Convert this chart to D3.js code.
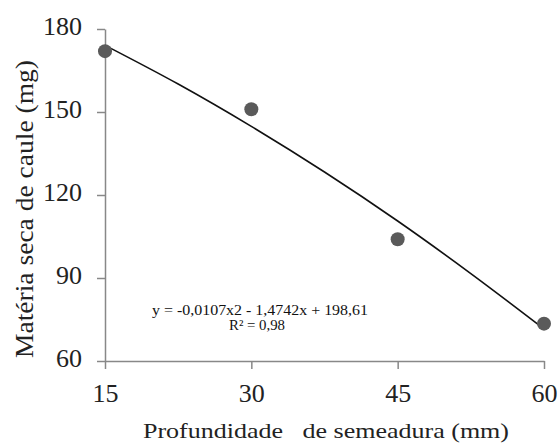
<!DOCTYPE html>
<html lang="pt">
<head>
<meta charset="UTF-8">
<title>Matéria seca de caule</title>
<script src="https://cdn.jsdelivr.net/npm/d3@7"></script>
<style>
  html, body { margin: 0; padding: 0; background: #fff; }
  svg text { font-family: 'Liberation Serif', 'Times New Roman', Times, 'DejaVu Serif', serif !important; }
</style>
</head>
<body>
<div id="chart"></div>
<script>
// observed points
const depths = [15, 30, 45, 60];
const massValues = [172, 151, 104, 73.5];
// fitted trend line
const trendX = [15, 22.5, 30, 37.5, 45, 52.5, 60];
const trendY = [174.1, 160.1, 144.8, 128.3, 110.6, 91.6, 71.6];
const xTicks = [15, 30, 45, 60];
const yTicks = [60, 90, 120, 150, 180];

const width = 558, height = 444;
const margin = { left: 105, right: 14, top: 29, bottom: 83 };

const svg = d3.select('#chart').append('svg')
  .attr('width', width)
  .attr('height', height);

const x = d3.scaleLinear().domain([15, 60]).range([margin.left, width - margin.right]);
const y = d3.scaleLinear().domain([60, 180]).range([height - margin.bottom, margin.top]);

// y axis
const yAxis = svg.append('g')
  .attr('transform', `translate(${margin.left},0)`)
  .call(d3.axisLeft(y).tickValues(yTicks).tickSize(8).tickPadding(15).tickSizeOuter(0));
yAxis.select('.domain').attr('stroke', '#888').attr('stroke-width', 1.5);
yAxis.selectAll('.tick line').attr('stroke', '#888').attr('stroke-width', 1.5);
yAxis.selectAll('.tick text')
  .attr('font-size', 26).attr('fill', '#222').attr('dy', '0.2em');

// x axis
const xAxis = svg.append('g')
  .attr('transform', `translate(0,${height - margin.bottom})`)
  .call(d3.axisBottom(x).tickValues(xTicks).tickSize(8).tickPadding(15).tickSizeOuter(0));
xAxis.select('.domain').attr('stroke', '#888').attr('stroke-width', 1.5);
xAxis.selectAll('.tick line').attr('stroke', '#888').attr('stroke-width', 1.5);
xAxis.selectAll('.tick text')
  .attr('font-size', 26).attr('fill', '#222');

// trend line
const line = d3.line()
  .x((d, i) => x(trendX[i]))
  .y(d => y(d))
  .curve(d3.curveMonotoneX);
svg.append('path')
  .attr('d', line(trendY))
  .attr('fill', 'none')
  .attr('stroke', '#111')
  .attr('stroke-width', 1.6);

// points
svg.selectAll('circle.pt')
  .data(massValues)
  .enter()
  .append('circle')
  .attr('class', 'pt')
  .attr('cx', (d, i) => x(depths[i]))
  .attr('cy', d => y(d))
  .attr('r', 7)
  .attr('fill', '#5a5a5a');

// equation
svg.append('text')
  .attr('x', 152).attr('y', 315)
  .attr('font-size', 14.5).attr('fill', '#111')
  .attr('textLength', 216).attr('lengthAdjust', 'spacingAndGlyphs')
  .text('y = -0,0107x2 - 1,4742x + 198,61');
svg.append('text')
  .attr('x', 229).attr('y', 330)
  .attr('font-size', 14.5).attr('fill', '#111')
  .attr('textLength', 56).attr('lengthAdjust', 'spacingAndGlyphs')
  .text('R² = 0,98');

// axis titles
svg.append('text')
  .attr('x', 143).attr('y', 438)
  .attr('font-size', 22).attr('fill', '#222')
  .attr('xml:space', 'preserve')
  .attr('textLength', 366).attr('lengthAdjust', 'spacingAndGlyphs')
  .text('Profundidade   de semeadura (mm)');
svg.append('text')
  .attr('transform', 'translate(33,358) rotate(-90)')
  .attr('font-size', 25).attr('fill', '#222')
  .attr('textLength', 298).attr('lengthAdjust', 'spacingAndGlyphs')
  .text('Matéria seca de caule (mg)');
</script>
</body>
</html>
